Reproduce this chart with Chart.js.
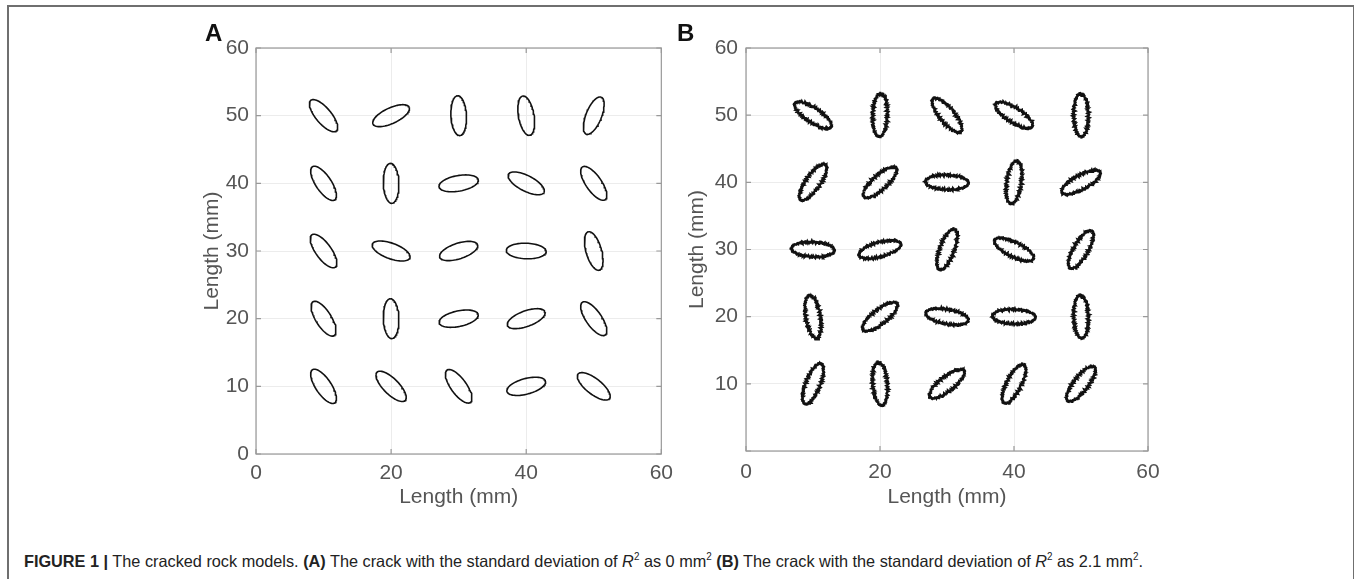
<!DOCTYPE html>
<html>
<head>
<meta charset="utf-8">
<script src="https://cdn.jsdelivr.net/npm/chart.js@4.4.1/dist/chart.umd.min.js"></script>
<style>
  body { margin:0; background:#fff; width:1354px; height:579px; overflow:hidden; position:relative; font-family:"Liberation Sans", Arial, sans-serif; }
  #frame { position:absolute; left:7px; top:5px; width:1344px; height:640px; border:2px solid #6f6f6f; }
  .panel { position:absolute; top:10px; }
  .plabel { position:absolute; font-weight:bold; font-size:24px; line-height:1; color:#111; }
  #caption { position:absolute; left:24px; top:553px; font-size:16.5px; line-height:1; color:#222; white-space:nowrap;
             font-family:"Liberation Sans Narrow", "Liberation Sans", Arial, sans-serif; transform-origin:0 0; }
  #caption sup { font-size:10px; vertical-align:7px; line-height:0; }
</style>
</head>
<body>
<div id="frame"></div>
<canvas id="chartA" class="panel" width="500" height="520" style="left:180px"></canvas>
<canvas id="chartB" class="panel" width="500" height="520" style="left:670px"></canvas>
<div class="plabel" style="left:205px;top:21px">A</div>
<div class="plabel" style="left:677px;top:21px">B</div>
<div id="caption"><b>FIGURE 1 |</b> The cracked rock models. <b>(A)</b> The crack with the standard deviation of <i>R</i><sup>2</sup> as 0 mm<sup>2</sup> <b>(B)</b> The crack with the standard deviation of <i>R</i><sup>2</sup> as 2.1 mm<sup>2</sup>.</div>

<script>
// crack centres (mm)
var gridX = [10, 20, 30, 40, 50];
var gridY = [50, 40, 30, 20, 10];

// crack angles in degrees, rows from y=50 down to y=10, left to right
var anglesA = [
  -50, 25, 93, 100, 68,
  -56, 92, 10, -27, -55,
  -54, -20, 18, -2, 106,
  -58, 92, 12, 20, -55,
  -56, -45, -54, 15, -38
];
var anglesB = [
  -33, 88, -50, -32, 91,
  55, 42, -2, 82, 28,
  -3, 15, 70, -26, 60,
  100, 38, -10, -2, 92,
  68, 95, 38, 63, 52
];

// semi axes (mm)
var semiA = [2.95, 1.15];
var semiB = [3.2, 1.08];

// edge roughness of the panel B cracks (mm)
var roughB = [0.2, -0.1, 0.26, -0.18, 0.05, 0.22, -0.14, 0.1, -0.22, 0.18, 0.0,
  -0.1, 0.3, -0.16, 0.12, -0.05, 0.2, -0.2, 0.08, 0.15, -0.12, 0.24, -0.08,
  0.02, -0.18, 0.16, -0.14, 0.28, -0.1, 0.06, 0.2, -0.22, 0.1, -0.02, 0.18,
  -0.15, 0.22, -0.06, 0.12, -0.18, 0.04];

var xTicks = [0, 20, 40, 60];
var yTicks = [0, 10, 20, 30, 40, 50, 60];

Chart.defaults.font.family = '"Liberation Sans", Arial, sans-serif';

// build one outline per crack
function crackOutline(cx, cy, ang, semi, rough, k) {
  var n = rough ? 130 : 72;
  var th = ang * Math.PI / 180;
  var pts = [];
  for (var i = 0; i <= n; i++) {
    var t = 2 * Math.PI * (i % n) / n;
    var r = rough ? rough[((i % n) + k * 11) % rough.length] : 0;
    var u = (semi[0] + r) * Math.cos(t);
    var v = (semi[1] + r) * Math.sin(t);
    pts.push({ x: cx + u * Math.cos(th) - v * Math.sin(th), y: cy + u * Math.sin(th) + v * Math.cos(th) });
  }
  return pts;
}

function buildDatasets(angles, semi, rough, width) {
  var sets = [];
  for (var r = 0; r < gridY.length; r++) {
    for (var c = 0; c < gridX.length; c++) {
      var k = r * gridX.length + c;
      sets.push({
        data: crackOutline(gridX[c], gridY[r], angles[k], semi, rough, k),
        showLine: true,
        borderColor: '#111',
        borderWidth: width,
        borderJoinStyle: 'miter',
        pointRadius: 0,
        fill: false
      });
    }
  }
  return sets;
}

// short spikes on the rough outlines
var miterPlugin = {
  id: 'miter',
  beforeDatasetsDraw: function(chart) { chart.ctx.miterLimit = 2.6; }
};

// box round the axes plus inward tick marks
var boxPlugin = {
  id: 'box',
  afterDraw: function(chart) {
    var ctx = chart.ctx, ca = chart.chartArea;
    var xs = chart.scales.x, ys = chart.scales.y;
    ctx.save();
    ctx.strokeStyle = '#999';
    ctx.lineWidth = 1.2;
    ctx.strokeRect(ca.left, ca.top, ca.right - ca.left, ca.bottom - ca.top);
    ctx.beginPath();
    xs.ticks.forEach(function(t) {
      var px = xs.getPixelForValue(t.value);
      ctx.moveTo(px, ca.bottom); ctx.lineTo(px, ca.bottom - 5);
      ctx.moveTo(px, ca.top); ctx.lineTo(px, ca.top + 5);
    });
    ys.ticks.forEach(function(t) {
      var py = ys.getPixelForValue(t.value);
      ctx.moveTo(ca.left, py); ctx.lineTo(ca.left + 5, py);
      ctx.moveTo(ca.right, py); ctx.lineTo(ca.right - 5, py);
    });
    ctx.stroke();
    ctx.restore();
  }
};

function makeChart(id, datasets, opt) {
  var font = { size: 21 };
  return new Chart(document.getElementById(id), {
    type: 'scatter',
    data: { datasets: datasets },
    plugins: [miterPlugin, boxPlugin],
    options: {
      responsive: false,
      animation: false,
      events: [],
      plugins: { legend: { display: false }, tooltip: { enabled: false } },
      layout: { padding: { top: 38, right: opt.right, left: 0, bottom: 0 } },
      scales: {
        x: {
          type: 'linear', min: 0, max: 60,
          afterBuildTicks: function(s) { s.ticks = xTicks.map(function(v) { return { value: v }; }); },
          ticks: { padding: opt.xpad, color: '#555', font: font },
          grid: { color: '#ececec', drawTicks: false },
          border: { display: false },
          title: { display: true, text: 'Length (mm)', color: '#555', font: font, padding: { top: 0, bottom: 20 } },
          afterFit: function(s) { s.height = opt.xh; }
        },
        y: {
          type: 'linear', min: 0, max: 60,
          afterBuildTicks: function(s) { s.ticks = yTicks.map(function(v) { return { value: v }; }); },
          ticks: {
            padding: opt.ypad, color: '#555', font: font,
            callback: function(v) { return (opt.hideZero && v === 0) ? '' : v; }
          },
          grid: { color: '#ececec', drawTicks: false },
          border: { display: false },
          title: { display: true, text: 'Length (mm)', color: '#555', font: font, padding: { top: opt.ttop, bottom: 0 } },
          afterFit: function(s) { s.width = 76; }
        }
      }
    }
  });
}

makeChart('chartA', buildDatasets(anglesA, semiA, null, 1.6),
  { right: 18, xh: 76, xpad: 7, ypad: 7, ttop: 20, hideZero: false });
makeChart('chartB', buildDatasets(anglesB, semiB, roughB, 2.2),
  { right: 22, xh: 79, xpad: 9, ypad: 8, ttop: 15, hideZero: true });

// squeeze caption to the printed width
var cap = document.getElementById('caption');
var w = cap.getBoundingClientRect().width;
cap.style.transform = 'scaleX(' + (1119 / w) + ')';
</script>
</body>
</html>
